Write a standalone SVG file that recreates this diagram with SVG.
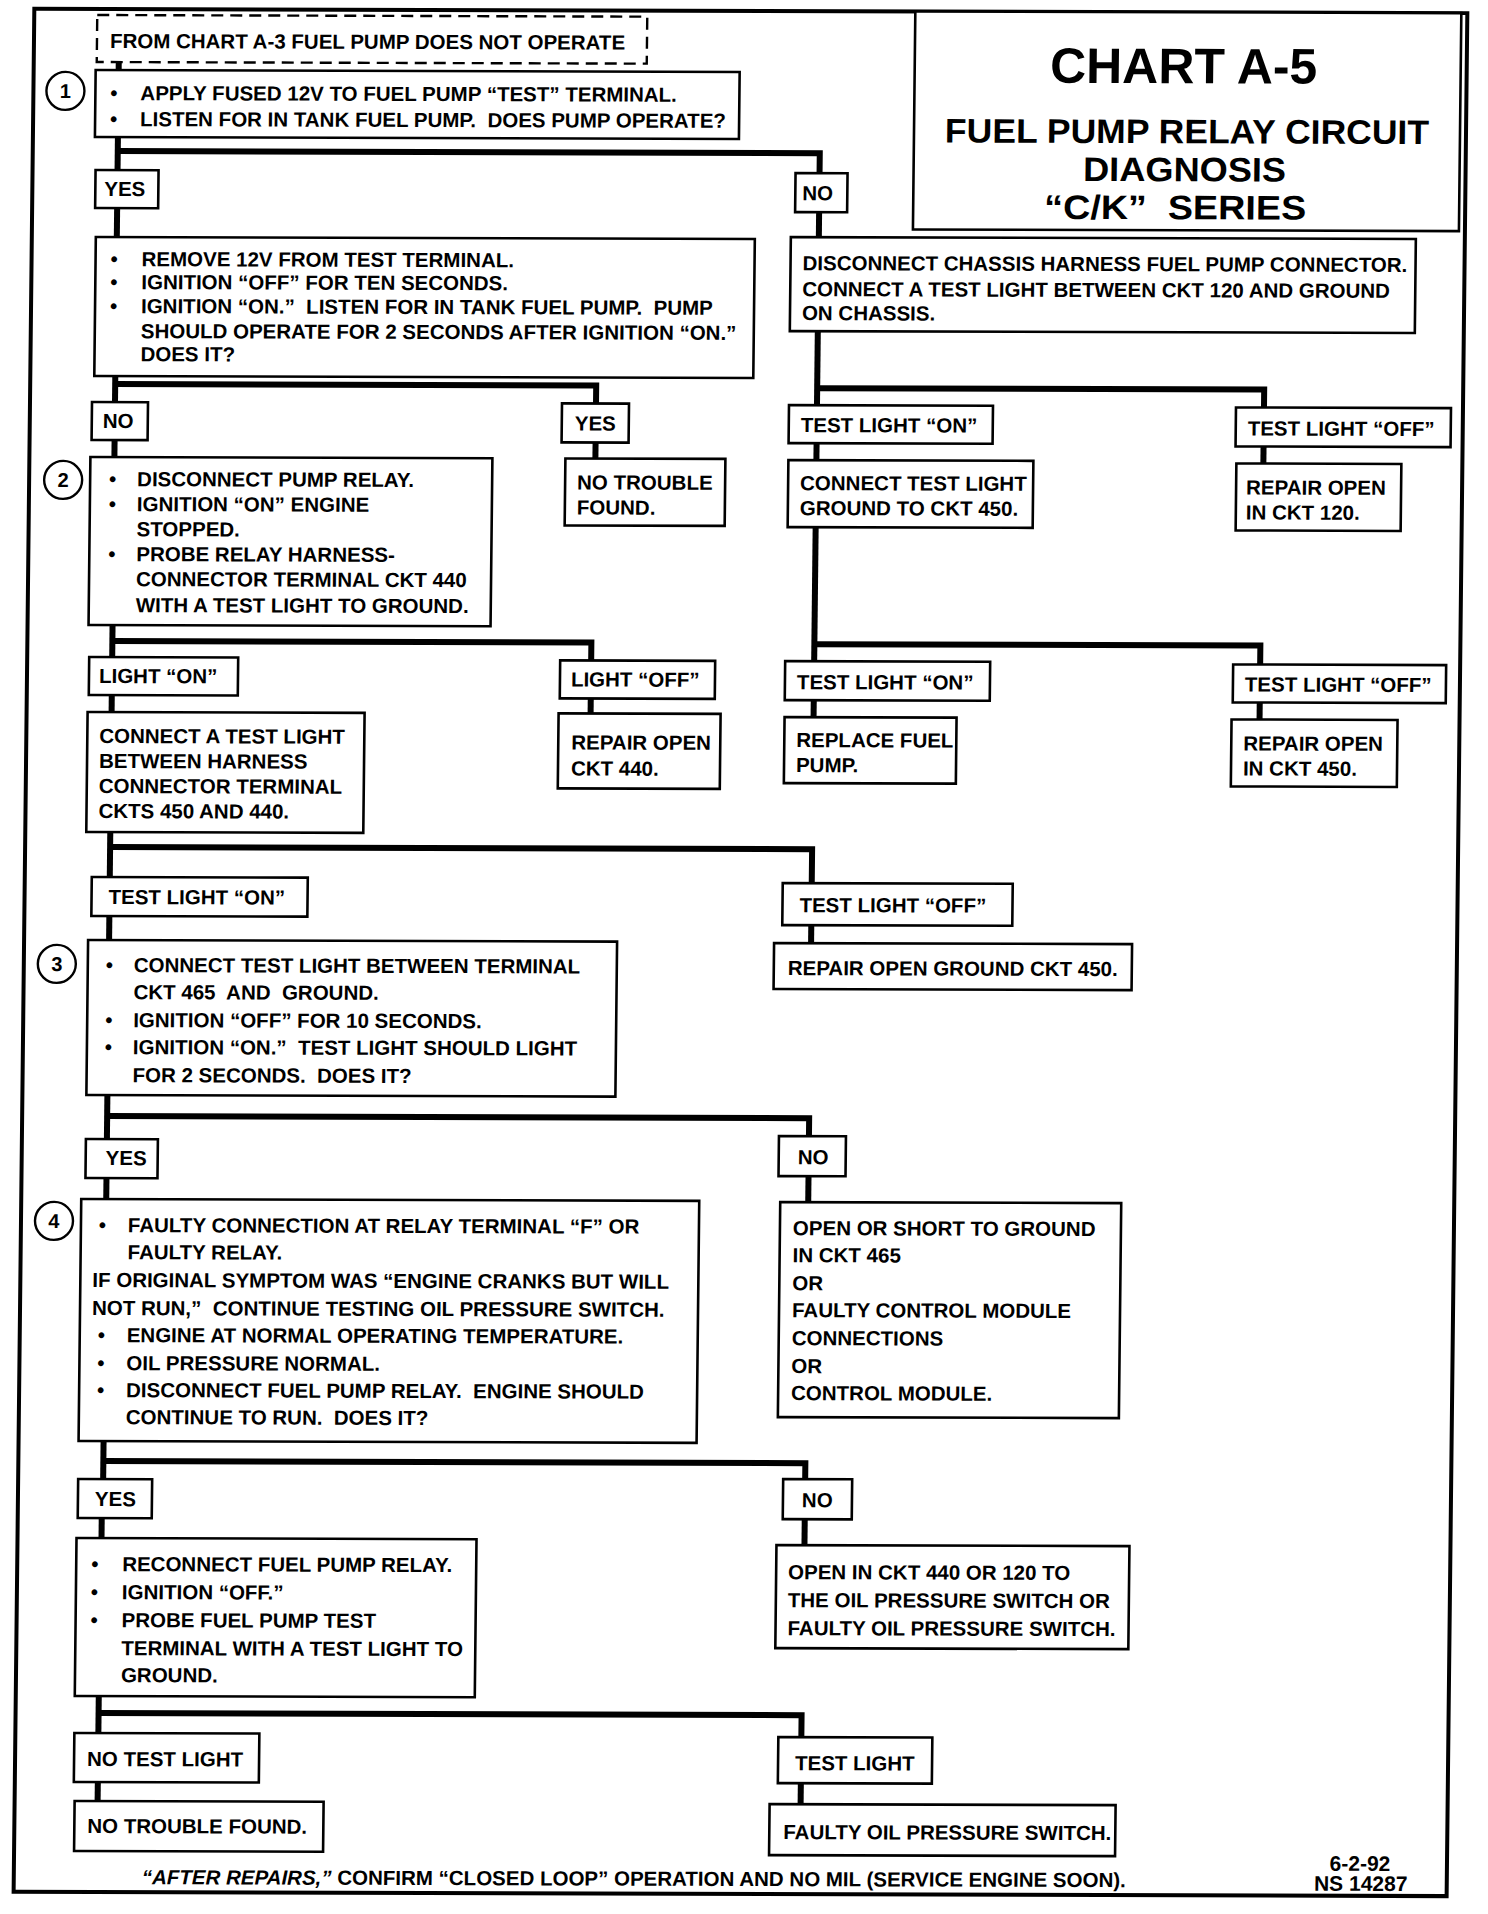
<svg xmlns="http://www.w3.org/2000/svg" width="1488" height="1914" viewBox="0 0 1488 1914">
<style>
.box{fill:#fff;stroke:#000;stroke-width:2.6}
.dash{fill:#fff;stroke:#000;stroke-width:2.4;stroke-dasharray:12 7}
.frame{fill:none;stroke:#000;stroke-width:4}
.conn{fill:none;stroke:#000;stroke-width:6;stroke-linejoin:miter;stroke-linecap:butt}
.circ{fill:#fff;stroke:#000;stroke-width:2.4}
text{font-family:"Liberation Sans",Arial,sans-serif;font-weight:bold;font-size:20.5px;fill:#000}
.num{text-anchor:middle;font-size:20px}
.ttl{text-anchor:middle;font-size:34px}
.big{text-anchor:middle;font-size:50px}
.code{text-anchor:middle;font-size:21px}
.it{font-style:italic}
</style>
<rect width="1488" height="1914" fill="#fff"/>
<g transform="matrix(1 0.003 -0.011 1 10.45 -2.25)">
<rect class="frame" x="24" y="11" width="1433" height="1883"/>
<g id="connectors">
<path class="conn" d="M109 63 V73"/>
<path class="conn" d="M109 139 V172"/>
<path class="conn" d="M109 153 H811 V173"/>
<path class="conn" d="M109 210 V239"/>
<path class="conn" d="M811 212 V237"/>
<path class="conn" d="M109 378 V404"/>
<path class="conn" d="M109 386 H590 V404"/>
<path class="conn" d="M590 443 V459"/>
<path class="conn" d="M811 331 V405"/>
<path class="conn" d="M811 388 H1258 V406"/>
<path class="conn" d="M1258 445 V462"/>
<path class="conn" d="M811 443 V460"/>
<path class="conn" d="M109 442 V459"/>
<path class="conn" d="M109 627 V659"/>
<path class="conn" d="M109 643 H588 V661"/>
<path class="conn" d="M588 699 V714"/>
<path class="conn" d="M811 527 V661"/>
<path class="conn" d="M811 644 H1257 V663"/>
<path class="conn" d="M811 700 V717"/>
<path class="conn" d="M1257 701 V718"/>
<path class="conn" d="M109 697 V714"/>
<path class="conn" d="M109 834 V879"/>
<path class="conn" d="M109 849 H811 V883"/>
<path class="conn" d="M811 925 V943"/>
<path class="conn" d="M109 918 V942"/>
<path class="conn" d="M109 1097 V1141"/>
<path class="conn" d="M109 1118 H811 V1136"/>
<path class="conn" d="M811 1176 V1202"/>
<path class="conn" d="M109 1180 V1201"/>
<path class="conn" d="M109 1443 V1481"/>
<path class="conn" d="M109 1463 H811 V1479"/>
<path class="conn" d="M811 1519 V1545"/>
<path class="conn" d="M108 1520 V1540"/>
<path class="conn" d="M107 1698 V1735"/>
<path class="conn" d="M107 1715 H810 V1737"/>
<path class="conn" d="M810 1783 V1804"/>
<path class="conn" d="M107 1784 V1803"/>
</g>
<g id="title">
<rect class="box" x="905" y="11" width="546" height="218"/>
<text class="big" x="1174" y="82" textLength="267" lengthAdjust="spacingAndGlyphs">CHART A-5</text>
<text class="ttl" x="1178" y="142" textLength="484" lengthAdjust="spacingAndGlyphs">FUEL PUMP RELAY CIRCUIT</text>
<text class="ttl" x="1176" y="180" textLength="203" lengthAdjust="spacingAndGlyphs">DIAGNOSIS</text>
<text class="ttl" x="1167" y="218" textLength="262" lengthAdjust="spacingAndGlyphs">“C/K”&#160;&#160;SERIES</text>
</g>
<g id="start">
<rect class="dash" x="87" y="17" width="550" height="47"/>
<text x="100" y="50">FROM CHART A-3 FUEL PUMP DOES NOT OPERATE</text>
</g>
<g id="step1">
<circle class="circ" cx="56" cy="93" r="19"/>
<text class="num" x="56" y="100">1</text>
<rect class="box" x="86" y="72" width="644" height="67"/>
<text y="102"><tspan x="101">•</tspan><tspan x="131">APPLY FUSED 12V TO FUEL PUMP “TEST” TERMINAL.</tspan></text>
<text y="128"><tspan x="101">•</tspan><tspan x="131">LISTEN FOR IN TANK FUEL PUMP.&#160; DOES PUMP OPERATE?</tspan></text>
</g>
<g id="yes1"><rect class="box" x="87" y="172" width="63" height="38"/><text x="96" y="198">YES</text></g>
<g id="no1"><rect class="box" x="787" y="173" width="52" height="39"/><text x="794" y="200">NO</text></g>
<g id="check-pump">
<rect class="box" x="88" y="239" width="659" height="139"/>
<text y="268"><tspan x="103">•</tspan><tspan x="134">REMOVE 12V FROM TEST TERMINAL.</tspan></text>
<text y="291"><tspan x="103">•</tspan><tspan x="134">IGNITION “OFF” FOR TEN SECONDS.</tspan></text>
<text y="315"><tspan x="103">•</tspan><tspan x="134">IGNITION “ON.”&#160; LISTEN FOR IN TANK FUEL PUMP.&#160; PUMP</tspan></text>
<text x="134" y="340">SHOULD OPERATE FOR 2 SECONDS AFTER IGNITION “ON.”</text>
<text x="134" y="363">DOES IT?</text>
</g>
<g id="chassis">
<rect class="box" x="783" y="237" width="625" height="94"/>
<text x="795" y="270">DISCONNECT CHASSIS HARNESS FUEL PUMP CONNECTOR.</text>
<text x="795" y="296">CONNECT A TEST LIGHT BETWEEN CKT 120 AND GROUND</text>
<text x="795" y="320">ON CHASSIS.</text>
</g>
<g id="no2"><rect class="box" x="86" y="404" width="56" height="38"/><text x="97" y="430">NO</text></g>
<g id="yes2"><rect class="box" x="556" y="404" width="67" height="39"/><text x="569" y="431">YES</text></g>
<g id="tl-on-1"><rect class="box" x="783" y="405" width="204" height="38"/><text x="795" y="432">TEST LIGHT “ON”</text></g>
<g id="tl-off-1"><rect class="box" x="1230" y="406" width="215" height="39"/><text x="1242" y="434">TEST LIGHT “OFF”</text></g>
<g id="step2">
<circle class="circ" cx="58" cy="482" r="19"/>
<text class="num" x="58" y="489">2</text>
<rect class="box" x="85" y="459" width="402" height="168"/>
<text y="488"><tspan x="104">•</tspan><tspan x="132">DISCONNECT PUMP RELAY.</tspan></text>
<text y="513"><tspan x="104">•</tspan><tspan x="132">IGNITION “ON” ENGINE</tspan></text>
<text x="132" y="538">STOPPED.</text>
<text y="563"><tspan x="104">•</tspan><tspan x="132">PROBE RELAY HARNESS-</tspan></text>
<text x="132" y="588">CONNECTOR TERMINAL CKT 440</text>
<text x="132" y="614">WITH A TEST LIGHT TO GROUND.</text>
</g>
<g id="ntf-1">
<rect class="box" x="560" y="459" width="160" height="67"/>
<text x="572" y="490">NO TROUBLE</text>
<text x="572" y="515">FOUND.</text>
</g>
<g id="ground-450">
<rect class="box" x="783" y="460" width="245" height="67"/>
<text x="795" y="490">CONNECT TEST LIGHT</text>
<text x="795" y="515">GROUND TO CKT 450.</text>
</g>
<g id="repair-120">
<rect class="box" x="1231" y="462" width="165" height="67"/>
<text x="1241" y="493">REPAIR OPEN</text>
<text x="1241" y="518">IN CKT 120.</text>
</g>
<g id="light-on"><rect class="box" x="86" y="659" width="149" height="38"/><text x="96" y="685">LIGHT “ON”</text></g>
<g id="light-off"><rect class="box" x="557" y="661" width="155" height="38"/><text x="568" y="687">LIGHT “OFF”</text></g>
<g id="tl-on-2"><rect class="box" x="782" y="661" width="205" height="39"/><text x="794" y="689">TEST LIGHT “ON”</text></g>
<g id="tl-off-2"><rect class="box" x="1230" y="663" width="213" height="38"/><text x="1242" y="690">TEST LIGHT “OFF”</text></g>
<g id="connect-450-440">
<rect class="box" x="85" y="714" width="277" height="120"/>
<text x="97" y="745">CONNECT A TEST LIGHT</text>
<text x="97" y="770">BETWEEN HARNESS</text>
<text x="97" y="795">CONNECTOR TERMINAL</text>
<text x="97" y="820">CKTS 450 AND 440.</text>
</g>
<g id="repair-440">
<rect class="box" x="556" y="714" width="162" height="75"/>
<text x="569" y="750">REPAIR OPEN</text>
<text x="569" y="776">CKT 440.</text>
</g>
<g id="replace-pump">
<rect class="box" x="782" y="717" width="172" height="66"/>
<text x="794" y="747">REPLACE FUEL</text>
<text x="794" y="772">PUMP.</text>
</g>
<g id="repair-450">
<rect class="box" x="1229" y="718" width="166" height="67"/>
<text x="1241" y="749">REPAIR OPEN</text>
<text x="1241" y="774">IN CKT 450.</text>
</g>
<g id="tl-on-3"><rect class="box" x="91" y="879" width="216" height="39"/><text x="108" y="906">TEST LIGHT “ON”</text></g>
<g id="tl-off-3"><rect class="box" x="782" y="883" width="230" height="42"/><text x="799" y="912">TEST LIGHT “OFF”</text></g>
<g id="step3">
<circle class="circ" cx="57" cy="966" r="19"/>
<text class="num" x="57" y="973">3</text>
<rect class="box" x="88" y="942" width="529" height="155"/>
<text y="974"><tspan x="106">•</tspan><tspan x="134">CONNECT TEST LIGHT BETWEEN TERMINAL</tspan></text>
<text x="134" y="1001">CKT 465&#160; AND&#160; GROUND.</text>
<text y="1029"><tspan x="106">•</tspan><tspan x="134">IGNITION “OFF” FOR 10 SECONDS.</tspan></text>
<text y="1056"><tspan x="106">•</tspan><tspan x="134">IGNITION “ON.”&#160; TEST LIGHT SHOULD LIGHT</tspan></text>
<text x="134" y="1084">FOR 2 SECONDS.&#160; DOES IT?</text>
</g>
<g id="repair-ground-450">
<rect class="box" x="774" y="943" width="358" height="46"/>
<text x="788" y="975">REPAIR OPEN GROUND CKT 450.</text>
</g>
<g id="yes5"><rect class="box" x="88" y="1141" width="72" height="39"/><text x="108" y="1167">YES</text></g>
<g id="no5"><rect class="box" x="781" y="1136" width="67" height="40"/><text x="800" y="1164">NO</text></g>
<g id="step4">
<circle class="circ" cx="57" cy="1223" r="19"/>
<text class="num" x="57" y="1230">4</text>
<rect class="box" x="84" y="1201" width="618" height="242"/>
<text y="1234"><tspan x="102">•</tspan><tspan x="131">FAULTY CONNECTION AT RELAY TERMINAL “F” OR</tspan></text>
<text x="131" y="1261">FAULTY RELAY.</text>
<text x="96" y="1289">IF ORIGINAL SYMPTOM WAS “ENGINE CRANKS BUT WILL</text>
<text x="96" y="1317">NOT RUN,”&#160; CONTINUE TESTING OIL PRESSURE SWITCH.</text>
<text y="1344"><tspan x="102">•</tspan><tspan x="131">ENGINE AT NORMAL OPERATING TEMPERATURE.</tspan></text>
<text y="1372"><tspan x="102">•</tspan><tspan x="131">OIL PRESSURE NORMAL.</tspan></text>
<text y="1399"><tspan x="102">•</tspan><tspan x="131">DISCONNECT FUEL PUMP RELAY.&#160; ENGINE SHOULD</tspan></text>
<text x="131" y="1426">CONTINUE TO RUN.&#160; DOES IT?</text>
</g>
<g id="open-short">
<rect class="box" x="783" y="1202" width="341" height="215"/>
<text x="796" y="1235">OPEN OR SHORT TO GROUND</text>
<text x="796" y="1262">IN CKT 465</text>
<text x="796" y="1290">OR</text>
<text x="796" y="1317">FAULTY CONTROL MODULE</text>
<text x="796" y="1345">CONNECTIONS</text>
<text x="796" y="1373">OR</text>
<text x="796" y="1400">CONTROL MODULE.</text>
</g>
<g id="yes6"><rect class="box" x="84" y="1481" width="74" height="39"/><text x="101" y="1508">YES</text></g>
<g id="no6"><rect class="box" x="789" y="1479" width="69" height="40"/><text x="808" y="1507">NO</text></g>
<g id="step5">
<rect class="box" x="83" y="1540" width="400" height="158"/>
<text y="1573"><tspan x="98">•</tspan><tspan x="129">RECONNECT FUEL PUMP RELAY.</tspan></text>
<text y="1601"><tspan x="98">•</tspan><tspan x="129">IGNITION “OFF.”</tspan></text>
<text y="1629"><tspan x="98">•</tspan><tspan x="129">PROBE FUEL PUMP TEST</tspan></text>
<text x="129" y="1657">TERMINAL WITH A TEST LIGHT TO</text>
<text x="129" y="1684">GROUND.</text>
</g>
<g id="open-oil">
<rect class="box" x="783" y="1545" width="353" height="103"/>
<text x="795" y="1579">OPEN IN CKT 440 OR 120 TO</text>
<text x="795" y="1607">THE OIL PRESSURE SWITCH OR</text>
<text x="795" y="1635">FAULTY OIL PRESSURE SWITCH.</text>
</g>
<g id="no-test-light"><rect class="box" x="83" y="1735" width="185" height="49"/><text x="96" y="1768">NO TEST LIGHT</text></g>
<g id="test-light"><rect class="box" x="787" y="1737" width="154" height="46"/><text x="804" y="1770">TEST LIGHT</text></g>
<g id="ntf-2"><rect class="box" x="84" y="1803" width="249" height="50"/><text x="97" y="1835">NO TROUBLE FOUND.</text></g>
<g id="faulty-switch"><rect class="box" x="779" y="1804" width="346" height="51"/><text x="793" y="1839">FAULTY OIL PRESSURE SWITCH.</text></g>
<g id="footer">
<text x="152" y="1886"><tspan class="it">“AFTER REPAIRS,”</tspan> CONFIRM “CLOSED LOOP” OPERATION AND NO MIL (SERVICE ENGINE SOON).</text>
<text class="code" x="1370" y="1869">6-2-92</text>
<text class="code" x="1371" y="1889">NS 14287</text>
</g>
</g>
</svg>
